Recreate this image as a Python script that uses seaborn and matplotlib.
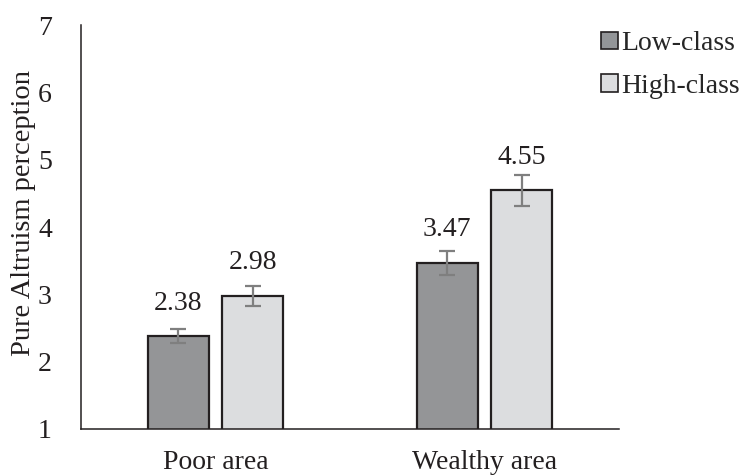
import matplotlib
matplotlib.use("Agg")
import matplotlib.pyplot as plt
import seaborn as sns
import pandas as pd
import numpy as np

# Data
areas = ["Poor area", "Wealthy area"]
classes = ["Low-class", "High-class"]
low_class = [2.38, 3.47]
high_class = [2.98, 4.55]
low_err = [0.11, 0.18]
high_err = [0.15, 0.23]
y_ticks = [1, 2, 3, 4, 5, 6, 7]

colors = {"Low-class": "#939598", "High-class": "#dcdddf"}
ink = "#231f20"

df = pd.DataFrame({
    "area": areas * 2,
    "cls": [classes[0]] * 2 + [classes[1]] * 2,
    "value": low_class + high_class,
    "err": low_err + high_err,
})

sns.set_style("white")
plt.rcParams["font.family"] = ["Liberation Serif", "DejaVu Serif"]
plt.rcParams["font.size"] = 20

fig = plt.figure(figsize=(7.44, 4.75), dpi=100)
ax = fig.add_axes([0.109, 0.097, 0.723, 0.85])

sns.barplot(data=df, x="area", y="value", hue="cls", order=areas,
            hue_order=classes, palette=colors, width=0.556, gap=0.184,
            errorbar=None, edgecolor=ink, linewidth=1.6, ax=ax,
            legend=False)

# Error bars and value labels, aligned to each drawn bar
for cont, cls in zip(ax.containers, classes):
    sub = df[df.cls == cls].set_index("area").loc[areas]
    for rect, (_, row) in zip(cont.patches, sub.iterrows()):
        xc = rect.get_x() + rect.get_width() / 2
        ax.errorbar(xc, row["value"], yerr=row["err"], fmt="none",
                    ecolor="#7f7f7f", elinewidth=1.6, capsize=5.5,
                    capthick=1.6, zorder=5)
        ax.annotate(f"{row['value']:.2f}", (xc, row["value"]),
                    xytext=(0, 19), textcoords="offset points",
                    ha="center", va="baseline", fontsize=20, color=ink)

ax.set_ylim(1, 7)
ax.set_yticks(y_ticks)
ax.set_xlim(-0.5, 1.5)
ax.set_xlabel("")
ax.set_ylabel("Pure Altruism perception", fontsize=20.5, color=ink)
ax.yaxis.set_label_coords(-0.083, 0.535)
ax.tick_params(axis="y", length=0, labelsize=20, colors=ink, pad=21)
ax.tick_params(axis="x", length=0, labelsize=20, colors=ink, pad=15)
for side in ["top", "right"]:
    ax.spines[side].set_visible(False)
for side in ["left", "bottom"]:
    ax.spines[side].set_color(ink)
    ax.spines[side].set_linewidth(1.1)

handles = [plt.Rectangle((0, 0), 1, 1, facecolor=colors[c],
                         edgecolor=ink, linewidth=1.2) for c in classes]
fig.legend(handles, classes, loc="upper left", bbox_to_anchor=(0.808, 0.934),
           frameon=False, fontsize=20, handlelength=0.6, handleheight=0.6,
           handletextpad=0.12, labelspacing=0.62, borderaxespad=0,
           borderpad=0)

fig.savefig("out.png", dpi=100)
